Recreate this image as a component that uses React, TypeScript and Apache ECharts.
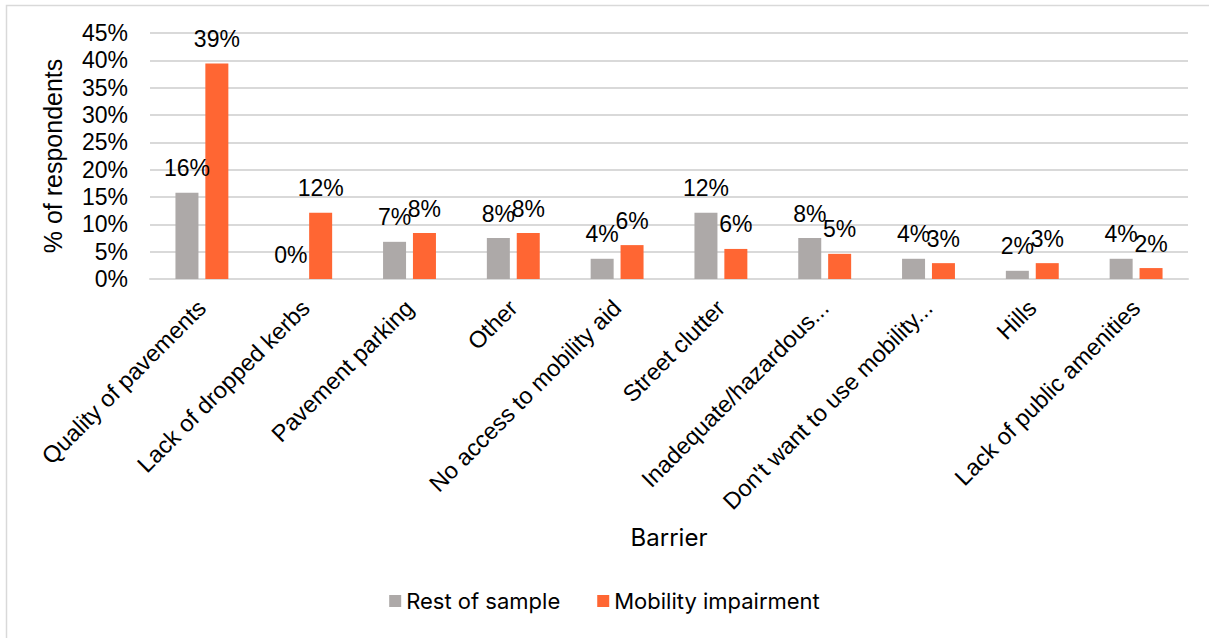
import React, { useEffect, useRef } from "react";
import * as echarts from "echarts";

const categories = [
  "Quality of pavements",
  "Lack of dropped kerbs",
  "Pavement parking",
  "Other",
  "No access to mobility aid",
  "Street clutter",
  "Inadequate/hazardous...",
  "Don't want to use mobility...",
  "Hills",
  "Lack of public amenities",
];
const restOfSample = [15.8, 0, 6.8, 7.5, 3.7, 12.1, 7.5, 3.7, 1.5, 3.7];
const mobilityImpairment = [39.4, 12.1, 8.4, 8.4, 6.2, 5.5, 4.6, 2.9, 2.9, 2.0];
const seriesNames = ["Rest of sample", "Mobility impairment"];

const AXIS_FONT = "'Liberation Sans', Arial, sans-serif";
const LEGEND_FONT = "Inter, 'Noto Sans', sans-serif";

export default function App() {
  const ref = useRef<HTMLDivElement>(null);
  useEffect(() => {
    if (!ref.current) return;
    const chart = echarts.init(ref.current, undefined, { renderer: "svg" });
    const label = {
      show: true,
      position: "top",
      distance: 13,
      color: "#000",
      fontSize: 23,
      fontFamily: AXIS_FONT,
      formatter: (p: any) => Math.round(p.value) + "%",
    };
    chart.setOption({
      animation: false,
      backgroundColor: "#fff",
      graphic: [
        {
          type: "rect",
          shape: { x: 6.5, y: 5.5, width: 1220, height: 640 },
          style: { fill: "none", stroke: "#d9d9d9", lineWidth: 1.5 },
          silent: true,
        },
      ],
      grid: { left: 150, right: 21, top: 33, bottom: 359, containLabel: false },
      legend: {
        bottom: 21,
        left: "center",
        itemWidth: 12,
        itemHeight: 12,
        itemGap: 37,
        icon: "rect",
        textStyle: { fontSize: 22, color: "#000", fontFamily: LEGEND_FONT },
        data: seriesNames,
      },
      xAxis: {
        type: "category",
        data: categories,
        name: "Barrier",
        nameLocation: "middle",
        nameGap: 246,
        nameTextStyle: { fontSize: 24, color: "#000", fontFamily: LEGEND_FONT },
        axisLine: { show: true, lineStyle: { color: "#d9d9d9", width: 2 } },
        axisTick: { show: false },
        axisLabel: {
          interval: 0,
          rotate: 45,
          margin: 25,
          fontSize: 23.5,
          color: "#000",
          fontFamily: AXIS_FONT,
        },
      },
      yAxis: {
        type: "value",
        min: 0,
        max: 45,
        interval: 5,
        name: "% of respondents",
        nameLocation: "middle",
        nameGap: 85,
        nameTextStyle: { fontSize: 25, color: "#000", fontFamily: AXIS_FONT },
        axisLine: { show: false },
        axisTick: { show: false },
        axisLabel: {
          formatter: "{value}%",
          fontSize: 23,
          color: "#000",
          margin: 22,
          fontFamily: AXIS_FONT,
        },
        splitLine: { lineStyle: { color: "#d9d9d9", width: 2 } },
      },
      series: [
        {
          name: seriesNames[0],
          type: "bar",
          data: restOfSample,
          barWidth: 23,
          barGap: "30%",
          itemStyle: { color: "#ADA9A8" },
          label,
        },
        {
          name: seriesNames[1],
          type: "bar",
          data: mobilityImpairment,
          barWidth: 23,
          barGap: "30%",
          itemStyle: { color: "#FF6633" },
          label,
        },
      ],
    });
    return () => chart.dispose();
  }, []);
  return (
    <div
      ref={ref}
      style={{ position: "fixed", left: 0, top: 0, width: 1209, height: 638 }}
    />
  );
}
